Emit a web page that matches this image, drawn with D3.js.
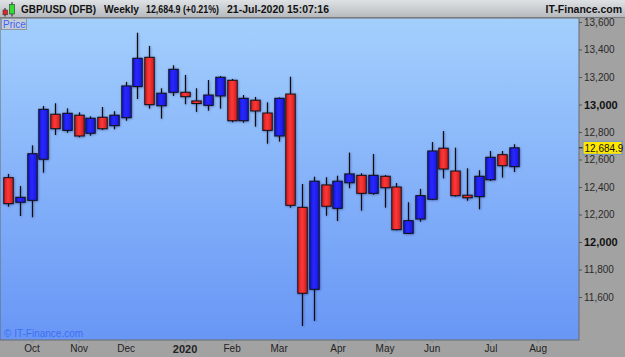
<!DOCTYPE html>
<meta charset="utf-8">
<script src="https://cdn.jsdelivr.net/npm/d3@7"></script>
<style>
    body { margin: 0; background: #a2a2a2; overflow: hidden; }
    text { font-family: "Liberation Sans", Arial, sans-serif; }
    .head { font-size: 10.5px; font-weight: bold; fill: #111; }
    .tick text { font-size: 10px; fill: #2a2a2a; }
</style>
<body>
<script>
// weekly bars, GBP/USD (prices x 10000 as shown on the chart)
var weeks = ["2019-09-23", "2019-09-30", "2019-10-07", "2019-10-14", "2019-10-21", "2019-10-28",
    "2019-11-04", "2019-11-11", "2019-11-18", "2019-11-25", "2019-12-02", "2019-12-09", "2019-12-16",
    "2019-12-23", "2019-12-30", "2020-01-06", "2020-01-13", "2020-01-20", "2020-01-27", "2020-02-03",
    "2020-02-10", "2020-02-17", "2020-02-24", "2020-03-02", "2020-03-09", "2020-03-16", "2020-03-23",
    "2020-03-30", "2020-04-06", "2020-04-13", "2020-04-20", "2020-04-27", "2020-05-04", "2020-05-11",
    "2020-05-18", "2020-05-25", "2020-06-01", "2020-06-08", "2020-06-15", "2020-06-22", "2020-06-29",
    "2020-07-06", "2020-07-13", "2020-07-20"];
var open = [12468, 12289, 12303, 12602, 12929, 12812, 12922, 12791, 12907, 12846, 12904, 13130, 13343,
    12991, 13089, 13089, 13026, 12994, 13062, 13176, 12882, 13031, 12938, 12771, 13076, 12252, 11656,
    12415, 12245, 12431, 12485, 12354, 12478, 12400, 12063, 12167, 12311, 12682, 12516, 12340, 12330,
    12453, 12635, 12548];
var high = [12495, 12407, 12703, 12989, 13009, 12972, 12943, 12914, 12982, 12951, 13164, 13522, 13426,
    13118, 13285, 13215, 13118, 13178, 13207, 13186, 13069, 13055, 13016, 13052, 13202, 12422, 12475,
    12471, 12482, 12650, 12500, 12640, 12487, 12429, 12289, 12386, 12727, 12807, 12686, 12536, 12522,
    12662, 12662, 12711];
var low = [12257, 12189, 12180, 12504, 12778, 12795, 12762, 12773, 12815, 12820, 12882, 13040, 12970,
    12897, 13062, 13002, 12946, 12955, 12970, 12871, 12868, 12839, 12715, 12730, 12250, 11389, 11426,
    12191, 12153, 12391, 12228, 12344, 12250, 12085, 12060, 12148, 12305, 12463, 12330, 12300, 12238,
    12444, 12468, 12509];
var close = [12279, 12325, 12642, 12965, 12824, 12936, 12771, 12900, 12824, 12922, 13135, 13336, 12999,
    13082, 13256, 13057, 13007, 13069, 13198, 12882, 13045, 12953, 12812, 13045, 12267, 11627, 12442,
    12260, 12442, 12495, 12354, 12485, 12395, 12090, 12155, 12337, 12662, 12531, 12337, 12322, 12478,
    12616, 12555, 12684.9];

var yTicks = [11600, 11800, 12000, 12200, 12400, 12600, 12800, 13000, 13200, 13400, 13600];
var monthTicks = ["2019-10-07", "2019-11-04", "2019-12-02", "2020-01-06", "2020-02-03", "2020-03-02",
    "2020-04-06", "2020-05-04", "2020-06-01", "2020-07-06", "2020-08-03"];
var monthLabels = ["Oct", "Nov", "Dec", "2020", "Feb", "Mar", "Apr", "May", "Jun", "Jul", "Aug"];
var lastPrice = 12684.9;

var width = 625, height = 357;
var plot = { left: 0, top: 18, right: 579, bottom: 340 };

var svg = d3.select("body").append("svg")
    .attr("width", width)
    .attr("height", height);

var defs = svg.append("defs");

var bg = defs.append("linearGradient").attr("id", "bg").attr("x1", 0).attr("y1", 0).attr("x2", 0).attr("y2", 1);
bg.append("stop").attr("offset", "0%").attr("stop-color", "#a3cffd");
bg.append("stop").attr("offset", "100%").attr("stop-color", "#6896f5");

var hd = defs.append("linearGradient").attr("id", "hd").attr("x1", 0).attr("y1", 0).attr("x2", 0).attr("y2", 1);
hd.append("stop").attr("offset", "0%").attr("stop-color", "#dfe2e5");
hd.append("stop").attr("offset", "100%").attr("stop-color", "#b4b8bc");

function bodyGrad(id, edge, mid) {
    var g = defs.append("linearGradient").attr("id", id).attr("x1", 0).attr("y1", 0).attr("x2", 1).attr("y2", 0);
    g.append("stop").attr("offset", "0%").attr("stop-color", edge);
    g.append("stop").attr("offset", "45%").attr("stop-color", mid);
    g.append("stop").attr("offset", "100%").attr("stop-color", edge);
}
bodyGrad("up", "#1414d8", "#2a2aff");
bodyGrad("down", "#cc1c1c", "#ff3838");

var sh = defs.append("filter").attr("id", "sh").attr("x", "-50%").attr("y", "-20%").attr("width", "200%").attr("height", "140%");
sh.append("feDropShadow").attr("dx", 0.5).attr("dy", 0.5).attr("stdDeviation", 1)
    .attr("flood-color", "#001040").attr("flood-opacity", 0.45);

defs.append("clipPath").attr("id", "clip").append("rect")
    .attr("x", plot.left).attr("y", plot.top)
    .attr("width", plot.right - plot.left).attr("height", plot.bottom - plot.top);

// panels
svg.append("rect").attr("width", width).attr("height", height).attr("fill", "#a2a2a2");
svg.append("rect").attr("x", plot.left).attr("y", plot.top)
    .attr("width", plot.right - plot.left).attr("height", plot.bottom - plot.top)
    .attr("fill", "url(#bg)").attr("stroke", "#6a6a6a").attr("stroke-width", 1);
svg.append("rect").attr("width", width).attr("height", 18).attr("fill", "url(#hd)");
svg.append("line").attr("x1", 0).attr("x2", width).attr("y1", 17.5).attr("y2", 17.5).attr("stroke", "#7a7a7a");

var x = d3.scaleUtc()
    .domain([new Date(weeks[0]), new Date(weeks[weeks.length - 1])])
    .range([8, 514]);

var y = d3.scaleLinear()
    .domain([11600, 13600])
    .range([297, 22]);

var bw = 9.4;

var data = weeks.map(function (w, i) {
    return { date: new Date(w), o: open[i], h: high[i], l: low[i], c: close[i] };
});

var chart = svg.append("g").attr("clip-path", "url(#clip)");

// watermark
chart.append("text")
    .attr("x", 4).attr("y", 337)
    .style("font-size", "10px")
    .attr("fill", "#3d6ff2")
    .text("\u00a9 IT-Finance.com");

var candle = chart.selectAll(".candle")
    .data(data)
    .enter().append("g")
    .attr("class", "candle")
    .attr("filter", "url(#sh)");

candle.append("line")
    .attr("x1", function (d) { return Math.round(x(d.date)) + 0.5; })
    .attr("x2", function (d) { return Math.round(x(d.date)) + 0.5; })
    .attr("y1", function (d) { return y(d.h); })
    .attr("y2", function (d) { return y(d.l); })
    .attr("stroke", "#111")
    .attr("stroke-width", 1.2);

candle.append("rect")
    .attr("x", function (d) { return Math.round(x(d.date)) + 0.5 - bw / 2; })
    .attr("y", function (d) { return y(Math.max(d.o, d.c)); })
    .attr("width", bw)
    .attr("height", function (d) { return Math.max(1.5, Math.abs(y(d.o) - y(d.c))); })
    .attr("fill", function (d) { return d.c >= d.o ? "url(#up)" : "url(#down)"; })
    .attr("stroke", "#111")
    .attr("stroke-width", 1);

// right axis
var yAxis = svg.append("g")
    .attr("transform", "translate(" + plot.right + ",0)")
    .call(d3.axisRight(y).tickValues(yTicks).tickSize(3).tickPadding(2).tickFormat(d3.format(",")));
yAxis.select(".domain").remove();
yAxis.selectAll(".tick line").attr("stroke", "#555");
yAxis.selectAll(".tick text")
    .style("font-weight", function (d) { return d % 1000 === 0 ? "bold" : "normal"; })
    .style("fill", function (d) { return d % 1000 === 0 ? "#111" : "#2a2a2a"; })
    .style("font-size", function (d) { return d % 1000 === 0 ? "11px" : "10px"; });

// bottom axis
var xAxis = svg.append("g")
    .attr("transform", "translate(0," + plot.bottom + ")")
    .call(d3.axisBottom(x)
        .tickValues(monthTicks.map(function (d) { return new Date(d); }))
        .tickSize(3).tickPadding(2)
        .tickFormat(function (d, i) { return monthLabels[i]; }));
xAxis.select(".domain").remove();
xAxis.selectAll(".tick line").attr("stroke", "#6f8fa8");
xAxis.selectAll(".tick text")
    .style("font-weight", function (d, i) { return monthLabels[i] === "2020" ? "bold" : "normal"; })
    .style("font-size", function (d, i) { return monthLabels[i] === "2020" ? "11px" : "10px"; })
    .style("fill", "#222");

// last price tag
var py = y(lastPrice);
svg.append("line").attr("x1", plot.right).attr("x2", plot.right + 4)
    .attr("y1", py).attr("y2", py).attr("stroke", "#111");
svg.append("rect")
    .attr("x", plot.right + 4).attr("y", py - 6.5)
    .attr("width", 39).attr("height", 13)
    .attr("fill", "#ffe800").attr("stroke", "#6b8fd6").attr("stroke-width", 1);
svg.append("text")
    .attr("x", plot.right + 5.5).attr("y", py + 4)
    .style("font-size", "10px").attr("fill", "#111")
    .text(d3.format(",.1f")(lastPrice));

// "Price" label box
svg.append("rect").attr("x", 1.5).attr("y", 18.5).attr("width", 25).attr("height", 11)
    .attr("fill", "#c4ccd6").attr("stroke", "#8e98a4");
svg.append("text").attr("x", 3).attr("y", 27.5)
    .style("font-size", "10px").attr("fill", "#3f63ff").text("Price");

// header
var icon = svg.append("g");
icon.append("line").attr("x1", 5).attr("x2", 5).attr("y1", 8).attr("y2", 16.5).attr("stroke", "#222");
icon.append("rect").attr("x", 3).attr("y", 10).attr("width", 4.5).attr("height", 4.8)
    .attr("fill", "#e52424").attr("stroke", "#333").attr("stroke-width", 0.6);
icon.append("line").attr("x1", 12).attr("x2", 12).attr("y1", 2).attr("y2", 16.5).attr("stroke", "#222");
icon.append("rect").attr("x", 9.5).attr("y", 4.5).attr("width", 5).attr("height", 9.5)
    .attr("fill", "#2ee02e").attr("stroke", "#333").attr("stroke-width", 0.6);

// [text, x, width] of the header items
var headItems = [["GBP/USD (DFB)", 21, 75], ["Weekly", 104, 35], ["12,684.9 (+0.21%)", 146, 73], ["21-Jul-2020 15:07:16", 227, 102]];
svg.selectAll(".head")
    .data(headItems)
    .enter().append("text")
    .attr("class", "head")
    .attr("x", function (d) { return d[1]; })
    .attr("y", 13)
    .attr("textLength", function (d) { return d[2]; })
    .attr("lengthAdjust", "spacingAndGlyphs")
    .text(function (d) { return d[0]; });
svg.append("text")
    .attr("class", "head")
    .attr("x", 622).attr("y", 13)
    .style("text-anchor", "end")
    .text("IT-Finance.com");
</script>
</body>
